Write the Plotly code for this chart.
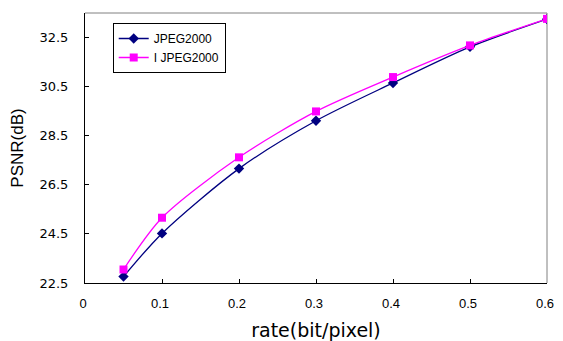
import plotly.graph_objects as go

rate = [0.05, 0.1, 0.2, 0.3, 0.4, 0.5, 0.6]
psnr_jpeg2000 = [22.76, 24.52, 27.16, 29.11, 30.65, 32.12, 33.25]
psnr_ijpeg2000 = [23.05, 25.16, 27.62, 29.49, 30.89, 32.18, 33.26]
series_names = ["JPEG2000", "I JPEG2000"]
x_title = "rate(bit/pixel)"
y_title = "PSNR(dB)"

fig = go.Figure()
fig.add_trace(go.Scatter(
    x=rate, y=psnr_jpeg2000, name=series_names[0], mode="lines+markers",
    line=dict(color="#000080", width=1.3, shape="spline", smoothing=0.8),
    marker=dict(symbol="diamond", size=8, color="#000080"),
))
fig.add_trace(go.Scatter(
    x=rate, y=psnr_ijpeg2000, name=series_names[1], mode="lines+markers",
    line=dict(color="#FF00FF", width=1.3, shape="spline", smoothing=0.8),
    marker=dict(symbol="square", size=8, color="#FF00FF"),
))

# the page body has an 8px margin, so the figure is sized to fit the window
y_tick_font = dict(family="DejaVu Sans", size=13, color="#000000")
x_tick_font = dict(family="Liberation Sans", size=13, color="#000000")
fig.update_layout(
    width=555, height=333,
    margin=dict(l=77, r=16, t=5, b=58, autoexpand=False),
    paper_bgcolor="white", plot_bgcolor="white",
    showlegend=True,
    legend=dict(
        x=0.06, y=0.963, xanchor="left", yanchor="top",
        bordercolor="#000000", borderwidth=1, bgcolor="white",
        font=dict(family="Liberation Sans", size=12, color="#000000"),
        tracegroupgap=0, itemwidth=30,
    ),
    xaxis=dict(
        range=[0, 0.6], tick0=0, dtick=0.1, showgrid=False, zeroline=False,
        showline=True, linecolor="#000000", linewidth=1, automargin=False,
        ticks="inside", ticklen=4, tickcolor="#000000",
        tickfont=x_tick_font, ticklabelstandoff=8, ticklabelshift=-2,
        ticklabeloverflow="allow",
        title=dict(text=x_title, font=dict(family="DejaVu Sans", size=19, color="#000000"), standoff=16),
    ),
    yaxis=dict(
        range=[22.5, 33.5], tick0=22.5, dtick=2, showgrid=False, zeroline=False,
        showline=True, linecolor="#000000", linewidth=1, automargin=False,
        ticks="inside", ticklen=4, tickcolor="#000000",
        tickfont=y_tick_font, ticklabelstandoff=13, ticklabeloverflow="allow",
        title=dict(text=y_title, font=dict(family="Liberation Sans", size=17, color="#000000"), standoff=12),
    ),
    shapes=[
        dict(type="line", xref="paper", yref="paper", x0=0, x1=1, y0=1, y1=1,
             line=dict(color="#808080", width=1), layer="below"),
        dict(type="line", xref="paper", yref="paper", x0=1, x1=1, y0=0, y1=1,
             line=dict(color="#808080", width=1), layer="below"),
    ],
)

fig.write_html("out.html")
